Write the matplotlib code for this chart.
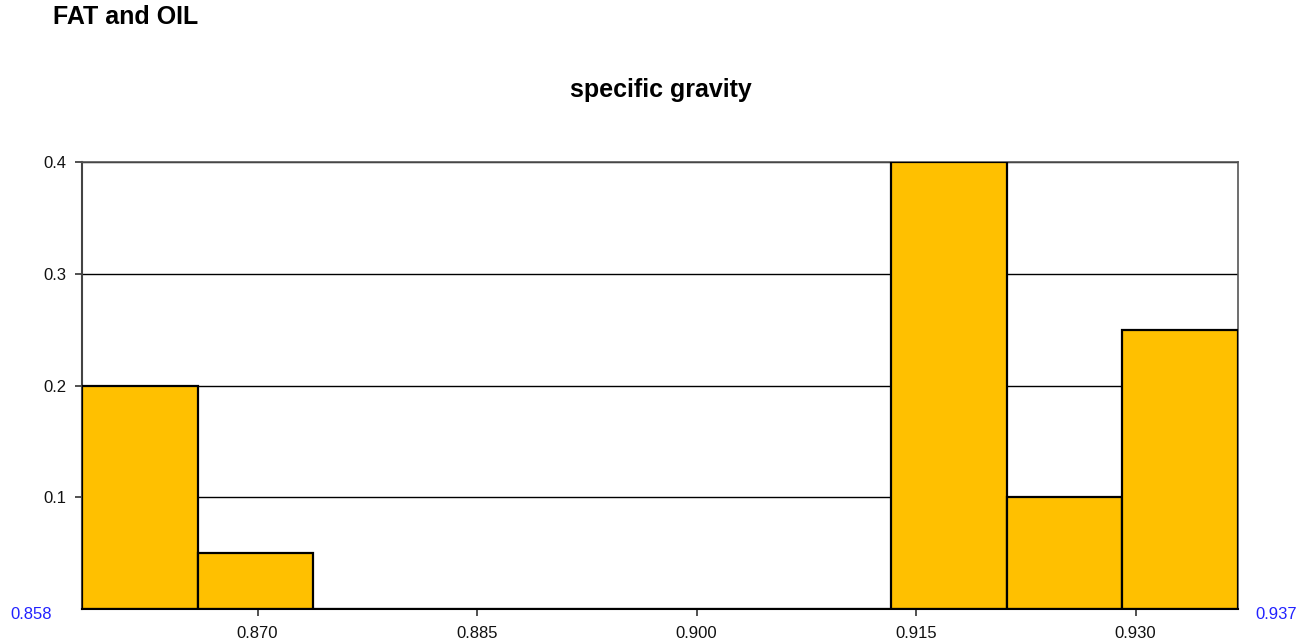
import matplotlib
matplotlib.use("Agg")
import matplotlib.pyplot as plt

plt.rcParams['font.family'] = ['Liberation Sans', 'DejaVu Sans']

# histogram of specific gravity for fats and oils
bin_edges = [0.858, 0.8659, 0.8738, 0.8817, 0.8896, 0.8975,
             0.9054, 0.9133, 0.9212, 0.9291, 0.937]
freq = [0.2, 0.05, 0.0, 0.0, 0.0, 0.0, 0.0, 0.4, 0.1, 0.25]
x_ticks = [0.870, 0.885, 0.900, 0.915, 0.930]
y_ticks = [0.1, 0.2, 0.3, 0.4]

fig = plt.figure(figsize=(13, 6.39), dpi=100)
ax = fig.add_axes([0.0631, 0.0469, 0.8892, 0.6996])

lefts = bin_edges[:-1]
widths = [b - a for a, b in zip(bin_edges[:-1], bin_edges[1:])]
ax.bar(lefts, freq, width=widths, align='edge', color='#FFC000',
       edgecolor='black', linewidth=1.6, zorder=3)

ax.set_xlim(bin_edges[0], bin_edges[-1])
ax.set_ylim(0, 0.4)
ax.set_xticks(x_ticks)
ax.set_xticklabels([f"{v:.3f}" for v in x_ticks])
ax.set_yticks(y_ticks)
ax.set_yticklabels([f"{v:.1f}" for v in y_ticks])
ax.tick_params(axis='both', labelsize=12, colors='#333333', length=5,
               width=1.2, labelcolor='#111111')
ax.tick_params(axis='x', pad=7)
ax.tick_params(axis='y', pad=6)
ax.yaxis.grid(True, color='black', linewidth=1.0, zorder=0)

for side in ['left', 'bottom']:
    ax.spines[side].set_color('#444444')
    ax.spines[side].set_linewidth(1.5)
for side in ['top', 'right']:
    ax.spines[side].set_color('#555555')
    ax.spines[side].set_linewidth(1.2)
ax.spines['bottom'].set_color('black')
ax.spines['bottom'].set_zorder(4)

# range limits in blue at the bottom corners
ax.text(-0.044, -0.012, f"{bin_edges[0]:.3f}", transform=ax.transAxes,
        color='#2222FF', fontsize=12, ha='center', va='center')
ax.text(1.033, -0.012, f"{bin_edges[-1]:.3f}", transform=ax.transAxes,
        color='#2222FF', fontsize=12, ha='center', va='center')

fig.text(0.041, 0.974, "FAT and OIL", fontsize=18, fontweight='bold',
         ha='left', va='center')
fig.text(0.508, 0.859, "specific gravity", fontsize=18, fontweight='bold',
         ha='center', va='center')

fig.savefig("out.png", dpi=100)
